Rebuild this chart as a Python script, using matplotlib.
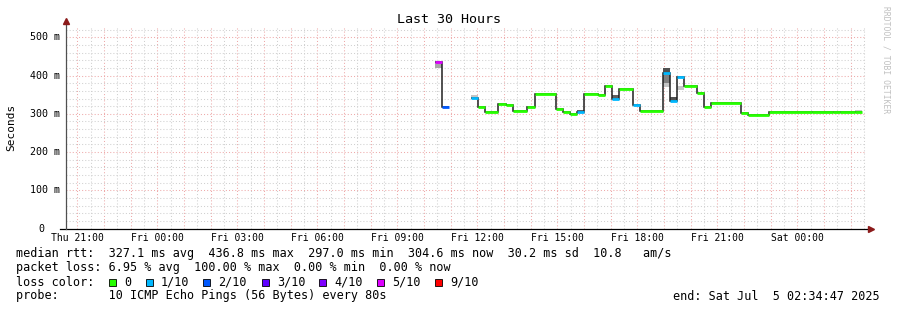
import numpy as np
import matplotlib.pyplot as plt
from matplotlib.patches import Rectangle
from matplotlib.transforms import blended_transform_factory


# median rtt steps, time in hours after Thu 21:00
seg_start = [13.41, 13.67, 14.75, 15.02, 15.28, 15.79, 16.07, 16.33, 16.85, 17.15,
             17.95, 18.21, 18.48, 18.74, 19.00, 19.54, 19.80, 20.06, 20.33, 20.85,
             21.11, 21.95, 22.23, 22.49, 22.75, 23.25, 23.51, 23.77, 24.88, 25.14,
             25.93, 27.55, 28.34, 28.60, 29.16]
seg_end   = [13.67, 13.93, 15.02, 15.28, 15.79, 16.07, 16.33, 16.85, 17.15, 17.95,
             18.21, 18.48, 18.74, 19.00, 19.54, 19.80, 20.06, 20.33, 20.85, 21.11,
             21.95, 22.23, 22.49, 22.75, 23.25, 23.51, 23.77, 24.88, 25.14, 25.93,
             27.55, 28.34, 28.60, 29.16, 29.42]
median    = [436.5, 319, 342, 318, 305, 326, 323, 307, 317, 351,
             313, 305, 299, 304, 352, 349, 374, 339.5, 366, 323,
             306, 408, 333, 395, 372, 353.5, 317, 327, 303, 297.5,
             305.5, 304.5, 305.5, 304.5, 304.6]
loss      = [5, 2, 1, 0, 0, 0, 0, 0, 0, 0,
             0, 0, 0, 1, 0, 0, 0, 1, 0, 1,
             0, 1, 1, 1, 0, 0, 0, 0, 0, 0,
             0, 0, 0, 0, 0]

# smoke (ping spread) per segment
smoke_seg   = [0, 2, 13, 17, 21, 21, 21, 22, 23, 34]
smoke_lo    = [419, 343, 305, 341, 369, 380, 410, 334, 363, 305]
smoke_hi    = [435, 348, 310, 349, 380, 417, 421, 345, 372, 310]
smoke_shade = ['#a8a8a8', '#c4c4c4', '#606060', '#606060', '#c4c4c4',
               '#808080', '#505050', '#505050', '#c8c8c8', '#c8c8c8']

loss_colors = ['#26ff00', '#00b8ff', '#0059ff', '#5e00ff', '#7e00ff', '#dd00ff', '#ff0000']
loss_labels = ['0', '1/10', '2/10', '3/10', '4/10', '5/10', '9/10']

xtick_pos    = [0, 3, 6, 9, 12, 15, 18, 21, 24, 27]
xtick_labels = ['Thu 21:00', 'Fri 00:00', 'Fri 03:00', 'Fri 06:00', 'Fri 09:00',
                'Fri 12:00', 'Fri 15:00', 'Fri 18:00', 'Fri 21:00', 'Sat 00:00']
ytick_pos    = [0, 100, 200, 300, 400, 500]
ytick_labels = ['0', '100 m', '200 m', '300 m', '400 m', '500 m']

W, H = 897, 310
mono = 'DejaVu Sans Mono'

fig = plt.figure(figsize=(W / 100, H / 100), dpi=100)
fig.patch.set_facecolor('white')
ax = fig.add_axes([66 / W, (H - 228.5) / H, 800 / W, 201.5 / H])
ax.set_xlim(-0.42, 29.58)
ax.set_ylim(0, 527)
ax.axis('off')

# grid
dot = (0, (1, 2))
for h in np.arange(0, 29.6, 0.5):
    c = '#eeaaaa' if h % 1 == 0 else '#d0d0d0'
    ax.axvline(h, color=c, lw=0.75, ls=dot, zorder=1)
for v in range(20, 527, 20):
    c = '#eeaaaa' if v % 100 == 0 else '#d0d0d0'
    ax.axhline(v, color=c, lw=0.75, ls=dot, zorder=1)

# smoke
for i, s in enumerate(smoke_seg):
    ax.fill_between([seg_start[s], seg_end[s]], smoke_lo[i], smoke_hi[i],
                    color=smoke_shade[i], lw=0, zorder=2)

# median line, black steps then loss colored segments
groups = [[0]]
for i in range(1, len(median)):
    if abs(seg_start[i] - seg_end[i - 1]) < 1e-6:
        groups[-1].append(i)
    else:
        groups.append([i])
for g in groups:
    edges = [seg_start[g[0]]] + [seg_end[i] for i in g]
    ax.stairs([median[i] for i in g], edges, baseline=None,
              color='#202020', lw=1.1, zorder=3)
for i in range(len(median)):
    ax.hlines(median[i], seg_start[i], seg_end[i], color=loss_colors[loss[i]],
              lw=2.0, zorder=4, capstyle='butt')

# axes with arrows
ax.plot([-0.007, 1.004], [0, 0], color='black', lw=0.9, transform=ax.transAxes,
        clip_on=False, zorder=5)
ax.plot([0, 0], [0, 1.025], color='#505050', lw=0.9, transform=ax.transAxes,
        clip_on=False, zorder=5)
ax.plot(1.0065, 0, marker='>', ms=4.5, color='#8b1a1a', transform=ax.transAxes,
        clip_on=False, zorder=6)
ax.plot(0, 1.03, marker='^', ms=4.5, color='#8b1a1a', transform=ax.transAxes,
        clip_on=False, zorder=6)

# tick labels
tx = blended_transform_factory(ax.transData, ax.transAxes)
for p, lab in zip(xtick_pos, xtick_labels):
    ax.text(p, -0.048, lab, ha='center', va='center', family=mono, fontsize=7.0,
            transform=tx)
ty = blended_transform_factory(ax.transAxes, ax.transData)
for p, lab in zip(ytick_pos, ytick_labels):
    xr = -0.0075 if p > 0 else -0.0265
    ax.text(xr, p, lab, ha='right', va='center', family=mono, fontsize=7.2,
            transform=ty)

fig.text(448.5 / W, 1 - 19.5 / H, 'Last 30 Hours', ha='center', va='center',
         family=mono, fontsize=9.6)
fig.text(11 / W, 1 - 127 / H, 'Seconds', ha='center', va='center', rotation=90,
         family=mono, fontsize=8)
fig.text(886 / W, 1 - 60 / H, 'RRDTOOL / TOBI OETIKER', ha='center', va='center',
         rotation=-90, family=mono, fontsize=5.8, color='#c0c0c0')

# legend
fs = 8.5
fig.text(16 / W, 1 - 254 / H,
         'median rtt:  327.1 ms avg  436.8 ms max  297.0 ms min  304.6 ms now  30.2 ms sd  10.8   am/s',
         ha='left', va='center', family=mono, fontsize=fs)
fig.text(16 / W, 1 - 268 / H,
         'packet loss: 6.95 % avg  100.00 % max  0.00 % min  0.00 % now',
         ha='left', va='center', family=mono, fontsize=fs)
fig.text(16 / W, 1 - 282 / H, 'loss color:', ha='left', va='center',
         family=mono, fontsize=fs)
box_x = [109, 146, 203, 262, 319, 377, 435]
for bx, col, lab in zip(box_x, loss_colors, loss_labels):
    fig.add_artist(Rectangle((bx / W, 1 - 285.5 / H), 7 / W, 7 / H, facecolor=col,
                             edgecolor='black', lw=0.6, transform=fig.transFigure))
    fig.text((bx + 15) / W, 1 - 282 / H, lab, ha='left', va='center',
             family=mono, fontsize=fs)
fig.text(16 / W, 1 - 296 / H, 'probe:       10 ICMP Echo Pings (56 Bytes) every 80s',
         ha='left', va='center', family=mono, fontsize=fs)
fig.text(880 / W, 1 - 296 / H, 'end: Sat Jul  5 02:34:47 2025', ha='right',
         va='center', family=mono, fontsize=fs)

fig.savefig('out.png', dpi=100, facecolor='white')
